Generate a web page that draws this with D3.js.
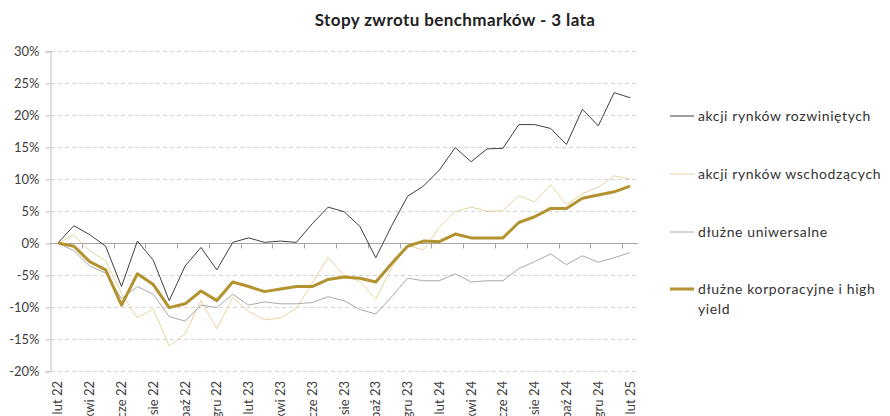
<!DOCTYPE html>
<html>
<head>
<meta charset="utf-8">
<script src="https://cdn.jsdelivr.net/npm/d3@7"></script>
<style>
  body { margin: 0; background: #fff; }
  svg { display: block; }
  .tick-lbl { font-family: Lato, "Liberation Sans", sans-serif; font-size: 13px; fill: #404040; }
  .title { font-family: Lato, "Open Sans", sans-serif; font-size: 17px; font-weight: bold; fill: #222; letter-spacing: 0.4px; }
  .legend text { font-family: Lato, "Open Sans", sans-serif; font-size: 14px; fill: #333; letter-spacing: 0.6px; }
</style>
</head>
<body>
<div id="chart"></div>
<script>
"use strict";

// monthly categories, lut 22 .. lut 25
const months = ["lut 22","mar 22","kwi 22","maj 22","cze 22","lip 22","sie 22","wrz 22","paź 22","lis 22","gru 22","sty 23",
  "lut 23","mar 23","kwi 23","maj 23","cze 23","lip 23","sie 23","wrz 23","paź 23","lis 23","gru 23","sty 24",
  "lut 24","mar 24","kwi 24","maj 24","cze 24","lip 24","sie 24","wrz 24","paź 24","lis 24","gru 24","sty 25","lut 25"];

// returns in %
const akcjeRozwiniete = [0, 2.7, 1.3, -0.5, -6.8, 0.3, -2.7, -9.0, -3.6, -0.7, -4.2, 0.1,
  0.8, 0.1, 0.3, 0.1, 3.0, 5.6, 4.9, 2.6, -2.3, 2.7, 7.3, 8.9,
  11.4, 14.9, 12.7, 14.7, 14.8, 18.5, 18.5, 17.9, 15.4, 20.9, 18.3, 23.5, 22.7];

const akcjeWschodzace = [0, 1.2, -1.2, -2.8, -7.9, -11.7, -10.3, -16.1, -14.2, -9.0, -13.4, -8.5,
  -10.7, -12.0, -11.7, -10.2, -6.3, -2.2, -5.1, -6.0, -8.8, -3.8, -0.4, -1.1,
  2.5, 4.9, 5.6, 5.0, 5.0, 7.4, 6.4, 9.1, 6.0, 7.7, 8.7, 10.5, 10.0];

const dluzneUniwersalne = [0, -1.2, -3.6, -4.7, -8.7, -6.8, -8.0, -11.5, -12.2, -9.7, -10.1, -8.0,
  -9.7, -9.2, -9.5, -9.5, -9.3, -8.4, -9.0, -10.4, -11.1, -8.4, -5.5, -5.9,
  -5.9, -4.8, -6.1, -5.9, -5.9, -4.0, -2.9, -1.7, -3.4, -2.0, -3.0, -2.3, -1.5];

const dluzneKorpHY = [0, -0.5, -2.9, -4.2, -9.7, -4.8, -6.5, -10.1, -9.5, -7.5, -9.0, -6.1,
  -6.8, -7.6, -7.2, -6.8, -6.8, -5.7, -5.3, -5.5, -6.1, -3.2, -0.5, 0.3,
  0.2, 1.4, 0.8, 0.8, 0.8, 3.2, 4.1, 5.4, 5.4, 7.0, 7.5, 8.0, 8.9];

const yTicks = [-20, -15, -10, -5, 0, 5, 10, 15, 20, 25, 30];

const series = [
  {name: ["akcji rynków rozwiniętych"], values: akcjeRozwiniete, color: "#404040", width: 1},
  {name: ["akcji rynków wschodzących"], values: akcjeWschodzace, color: "#E8D4A2", width: 1},
  {name: ["dłużne uniwersalne"], values: dluzneUniwersalne, color: "#A9A9A9", width: 1},
  {name: ["dłużne korporacyjne i high", "yield"], values: dluzneKorpHY, color: "#B3932F", width: 3}
];

let W = 890, H = 416,
  margin = {top: 51, right: 252, bottom: 45, left: 50},
  svg = d3.select("#chart").append("svg").attr("width", W).attr("height", H),
  x = d3.scaleLinear().domain([-0.5, months.length - 0.5]).range([margin.left, W - margin.right]),
  y = d3.scaleLinear().domain([-20, 30]).range([H - margin.bottom, margin.top])
;

svg.append("text")
  .attr("class", "title")
  .attr("x", 455)
  .attr("y", 26)
  .attr("text-anchor", "middle")
  .text("Stopy zwrotu benchmarków - 3 lata");

// dashed grid
svg.append("g")
  .selectAll("line")
  .data(yTicks.filter(d => d !== 0))
  .enter().append("line")
  .attr("x1", margin.left + 1)
  .attr("x2", W - margin.right)
  .attr("y1", d => Math.round(y(d)) + 0.5)
  .attr("y2", d => Math.round(y(d)) + 0.5)
  .attr("stroke", "#D4D4D4")
  .attr("stroke-dasharray", "4,3");

// y axis
let yAxis = svg.append("g")
  .attr("transform", "translate(" + (margin.left + 0.5) + ",0)")
  .call(d3.axisLeft(y).tickValues(yTicks).tickSize(5).tickPadding(6).tickFormat(d => d + "%"));
yAxis.select(".domain").attr("stroke", "#BFBFBF");
yAxis.selectAll(".tick line").attr("stroke", "#BFBFBF").attr("transform", "translate(0,0.5)");
yAxis.selectAll(".tick text").attr("class", "tick-lbl").attr("font-size", null).attr("font-family", null);

// zero axis with tick marks between categories
let zeroY = Math.round(y(0)) + 0.5;
svg.append("line")
  .attr("x1", margin.left)
  .attr("x2", W - margin.right)
  .attr("y1", zeroY)
  .attr("y2", zeroY)
  .attr("stroke", "#A6A6A6");

svg.append("g")
  .selectAll("line")
  .data(d3.range(1.5, months.length - 1, 2))
  .enter().append("line")
  .attr("x1", d => Math.round(x(d)) + 0.5)
  .attr("x2", d => Math.round(x(d)) + 0.5)
  .attr("y1", zeroY)
  .attr("y2", zeroY + 5)
  .attr("stroke", "#A6A6A6");

// category labels, every second month, rotated (cut by the bottom edge as in the source)
svg.append("g")
  .selectAll("text")
  .data(months.map((m, i) => ({m, i})).filter(d => d.i % 2 === 0))
  .enter().append("text")
  .attr("class", "tick-lbl")
  .attr("text-anchor", "end")
  .attr("transform", d => "translate(" + (x(d.i) + 4.5) + "," + (H - margin.bottom + 10) + ") rotate(-90)")
  .text(d => d.m);

// lines
let line = d3.line()
  .x((d, i) => x(i))
  .y(d => y(d));

svg.append("g")
  .selectAll("path")
  .data(series)
  .enter().append("path")
  .attr("fill", "none")
  .attr("stroke", d => d.color)
  .attr("stroke-width", d => d.width)
  .attr("stroke-linejoin", "round")
  .attr("d", d => line(d.values));

// legend
let legendY = [116, 174, 232, 289];
let legend = svg.append("g").attr("class", "legend")
  .selectAll("g")
  .data(series)
  .enter().append("g")
  .attr("transform", (d, i) => "translate(670," + legendY[i] + ")");

legend.append("line")
  .attr("x1", 0)
  .attr("x2", 24)
  .attr("stroke", d => d.color)
  .attr("stroke-width", d => d.width);

legend.append("text")
  .attr("x", 28)
  .attr("y", 5)
  .selectAll("tspan")
  .data(d => d.name)
  .enter().append("tspan")
  .attr("x", 28)
  .attr("dy", (d, i) => i ? 20 : 0)
  .text(d => d);
</script>
</body>
</html>
